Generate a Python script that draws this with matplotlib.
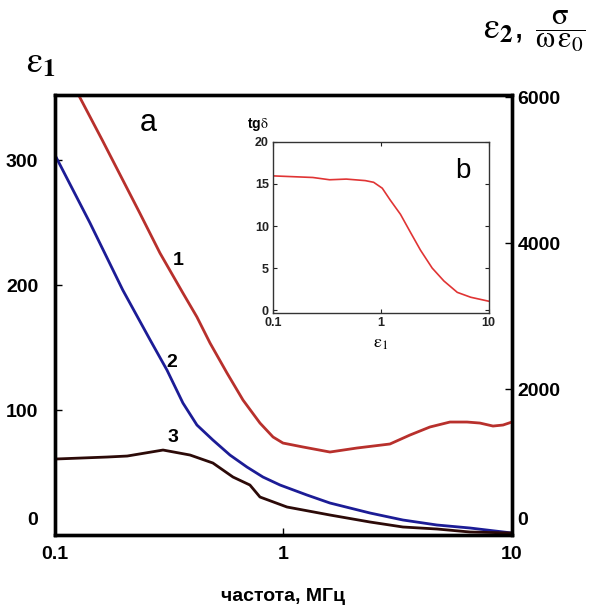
import numpy as np
import matplotlib
matplotlib.use("Agg")
import matplotlib.pyplot as plt
from matplotlib.transforms import ScaledTranslation

plt.rcParams['font.family'] = ['Liberation Sans', 'DejaVu Sans']
plt.rcParams['mathtext.fontset'] = 'stix'

# curve 1 (right axis), red
f1 = [0.100, 0.161, 0.235, 0.288, 0.363, 0.418, 0.477, 0.566, 0.665, 0.789, 0.90,
      0.995, 1.217, 1.597, 2.097, 2.924, 3.578, 4.376, 5.354, 6.357, 7.24, 8.26,
      9.14, 10.0]
y1 = [6644, 5411, 4411, 3863, 3315, 2987, 2630, 2219, 1849, 1534, 1343,
      1260, 1206, 1137, 1192, 1247, 1370, 1480, 1548, 1548, 1534, 1493,
      1507, 1548]

# curve 2 (left axis), blue
f2 = [0.100, 0.142, 0.198, 0.261, 0.309, 0.363, 0.418, 0.491, 0.583, 0.692,
      0.813, 0.966, 1.267, 1.597, 2.391, 3.333, 4.696, 6.55, 10.0]
y2 = [304, 250, 196, 156, 132, 105.6, 88, 76, 64, 54.4,
      46.4, 40, 32, 25.6, 17.6, 12, 8, 5.6, 1.6]

# curve 3 (left axis), dark brown
f3 = [0.100, 0.169, 0.207, 0.297, 0.390, 0.491, 0.601, 0.713, 0.789, 1.036,
      1.597, 2.391, 3.333, 4.696, 6.55, 10.0]
y3 = [60.8, 62.4, 63.2, 68, 64, 57.6, 46.4, 40, 30.4, 22.4, 16, 10.4, 6.4, 4.8, 2.4, 1.6]

# inset: tg(delta)
fi = [0.1, 0.164, 0.234, 0.335, 0.478, 0.717, 0.857, 1.03, 1.22, 1.52, 1.88,
      2.33, 2.99, 3.84, 5.11, 6.81, 10.0]
yi = [15.96, 15.85, 15.77, 15.5, 15.58, 15.4, 15.2, 14.5, 13.1, 11.4, 9.27,
      7.15, 5.03, 3.5, 2.15, 1.57, 1.1]

fig = plt.figure(figsize=(6.06, 6.05), dpi=100)
ax = fig.add_axes([0.0908, 0.1157, 0.754, 0.727])
ax2 = ax.twinx()

ax.plot(f2, y2, color='#1c1c96', lw=2.0)
ax.plot(f3, y3, color='#2c0a08', lw=2.0)
ax2.plot(f1, y1, color='#b8302c', lw=2.0)

ax.set_xscale('log')
ax.set_xlim(0.1, 10)
ax.set_ylim(0, 352)
ax2.set_ylim(0, 6027)
ax.set_xticks([0.1, 1, 10])
ax.set_xticklabels(['0.1', '1', '10'])
ax.minorticks_off()
ax.set_yticks([0, 100, 200, 300])
ax2.set_yticks([0, 2000, 4000, 6000])

for a in (ax, ax2):
    for s in a.spines.values():
        s.set_linewidth(2.4)
    a.tick_params(direction='in', length=5, width=1, labelsize=14, pad=8)
    for lbl in a.get_xticklabels() + a.get_yticklabels():
        lbl.set_fontweight('bold')
ax.tick_params(axis='y', pad=12)
ax2.tick_params(axis='y', pad=4)

# the zero labels sit a bit above the baseline in the original
up = ScaledTranslation(0, 12 / 72, fig.dpi_scale_trans)
for a in (ax, ax2):
    t0 = a.yaxis.get_major_ticks()[0]
    t0.label1.set_transform(t0.label1.get_transform() + up)
    t0.label2.set_transform(t0.label2.get_transform() + up)

ax.set_xlabel('частота, МГц', fontsize=14, fontweight='bold', labelpad=18)

ax.text(0.345, 220, '1', fontsize=14, fontweight='bold', ha='center', va='center')
ax.text(0.325, 138, '2', fontsize=14, fontweight='bold', ha='center', va='center')
ax.text(0.328, 78, '3', fontsize=14, fontweight='bold', ha='center', va='center')
ax.text(0.255, 330, 'a', fontsize=22, ha='center', va='center')

fig.text(0.068, 0.897, r'$\mathrm{\varepsilon}_{\mathbf{1}}$', fontsize=26, ha='center', va='center')
fig.text(0.862, 0.952, r'$\mathrm{\varepsilon}_{\mathbf{2}}$,', fontsize=26, ha='right', va='center')
fig.text(0.925, 0.948, r'$\dfrac{\mathrm{\sigma}}{\mathrm{\omega\,\varepsilon_0}}$', fontsize=22,
         ha='center', va='center')

# inset b
axi = fig.add_axes([0.4505, 0.4826, 0.356, 0.283])
axi.plot(fi, yi, color='#e03434', lw=1.2)
axi.set_xscale('log')
axi.set_xlim(0.1, 10)
axi.set_ylim(-0.3, 20)
axi.set_xticks([0.1, 1, 10])
axi.set_xticklabels(['0.1', '1', '10'])
axi.minorticks_off()
axi.set_yticks([0, 5, 10, 15, 20])
for s in axi.spines.values():
    s.set_linewidth(1.0)
    s.set_color('#333333')
axi.tick_params(direction='in', length=3, width=0.8, labelsize=9, pad=3, colors='#222222',
                top=True, right=True)
for lbl in axi.get_xticklabels() + axi.get_yticklabels():
    lbl.set_fontweight('bold')
axi.set_xlabel(r'$\mathrm{\varepsilon}_1$', fontsize=13, labelpad=4)
axi.text(-0.07, 1.1, r'tg$\mathrm{\delta}$', transform=axi.transAxes, fontsize=10,
         fontweight='bold', ha='center', va='center')
axi.text(0.88, 0.83, 'b', transform=axi.transAxes, fontsize=20, ha='center', va='center')

fig.savefig('out.png', dpi=100)
